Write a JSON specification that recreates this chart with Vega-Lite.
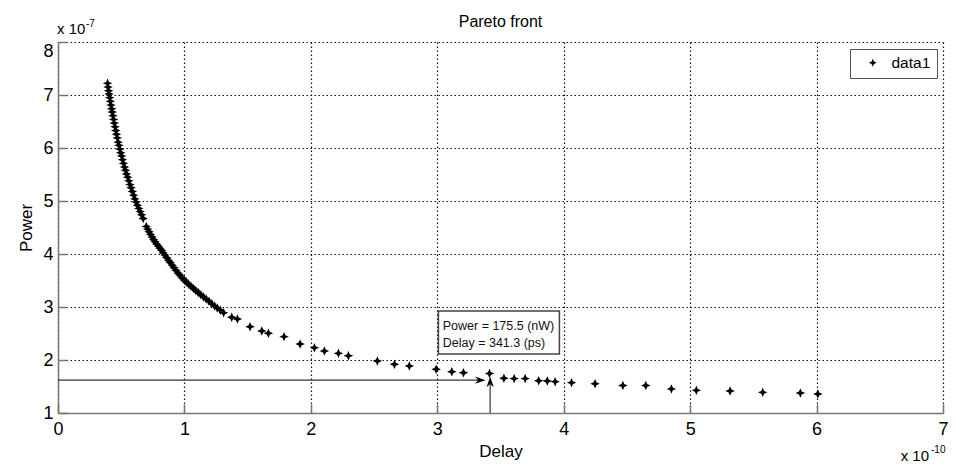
{
  "$schema": "https://vega.github.io/schema/vega-lite/v6.json",
  "width": 885,
  "height": 371,
  "autosize": {"type": "none"},
  "padding": {"left": 58, "top": 42, "right": 13, "bottom": 52},
  "background": "white",
  "title": {"text": "Pareto front", "fontSize": 16, "fontWeight": "normal", "font": "Liberation Sans", "offset": -11, "color": "black"},
  "config": {"view": {"stroke": null}, "font": "Liberation Sans"},
  "datasets": {
    "pts": [
      {"delay": 0.392, "power": 7.22, "series": "data1"},
      {"delay": 0.396, "power": 7.15, "series": "data1"},
      {"delay": 0.400, "power": 7.08, "series": "data1"},
      {"delay": 0.404, "power": 7.02, "series": "data1"},
      {"delay": 0.409, "power": 6.95, "series": "data1"},
      {"delay": 0.414, "power": 6.88, "series": "data1"},
      {"delay": 0.419, "power": 6.81, "series": "data1"},
      {"delay": 0.424, "power": 6.74, "series": "data1"},
      {"delay": 0.429, "power": 6.68, "series": "data1"},
      {"delay": 0.434, "power": 6.61, "series": "data1"},
      {"delay": 0.440, "power": 6.54, "series": "data1"},
      {"delay": 0.445, "power": 6.47, "series": "data1"},
      {"delay": 0.451, "power": 6.40, "series": "data1"},
      {"delay": 0.457, "power": 6.33, "series": "data1"},
      {"delay": 0.463, "power": 6.26, "series": "data1"},
      {"delay": 0.469, "power": 6.19, "series": "data1"},
      {"delay": 0.476, "power": 6.11, "series": "data1"},
      {"delay": 0.482, "power": 6.05, "series": "data1"},
      {"delay": 0.489, "power": 5.98, "series": "data1"},
      {"delay": 0.496, "power": 5.91, "series": "data1"},
      {"delay": 0.503, "power": 5.85, "series": "data1"},
      {"delay": 0.510, "power": 5.78, "series": "data1"},
      {"delay": 0.518, "power": 5.71, "series": "data1"},
      {"delay": 0.526, "power": 5.64, "series": "data1"},
      {"delay": 0.534, "power": 5.58, "series": "data1"},
      {"delay": 0.542, "power": 5.51, "series": "data1"},
      {"delay": 0.551, "power": 5.45, "series": "data1"},
      {"delay": 0.560, "power": 5.38, "series": "data1"},
      {"delay": 0.569, "power": 5.31, "series": "data1"},
      {"delay": 0.578, "power": 5.25, "series": "data1"},
      {"delay": 0.588, "power": 5.18, "series": "data1"},
      {"delay": 0.598, "power": 5.11, "series": "data1"},
      {"delay": 0.608, "power": 5.04, "series": "data1"},
      {"delay": 0.618, "power": 4.98, "series": "data1"},
      {"delay": 0.628, "power": 4.92, "series": "data1"},
      {"delay": 0.639, "power": 4.86, "series": "data1"},
      {"delay": 0.650, "power": 4.80, "series": "data1"},
      {"delay": 0.661, "power": 4.74, "series": "data1"},
      {"delay": 0.674, "power": 4.67, "series": "data1"},
      {"delay": 0.698, "power": 4.52, "series": "data1"},
      {"delay": 0.709, "power": 4.47, "series": "data1"},
      {"delay": 0.720, "power": 4.42, "series": "data1"},
      {"delay": 0.732, "power": 4.37, "series": "data1"},
      {"delay": 0.744, "power": 4.32, "series": "data1"},
      {"delay": 0.756, "power": 4.27, "series": "data1"},
      {"delay": 0.768, "power": 4.23, "series": "data1"},
      {"delay": 0.780, "power": 4.19, "series": "data1"},
      {"delay": 0.793, "power": 4.15, "series": "data1"},
      {"delay": 0.806, "power": 4.11, "series": "data1"},
      {"delay": 0.819, "power": 4.07, "series": "data1"},
      {"delay": 0.832, "power": 4.02, "series": "data1"},
      {"delay": 0.846, "power": 3.98, "series": "data1"},
      {"delay": 0.860, "power": 3.93, "series": "data1"},
      {"delay": 0.874, "power": 3.88, "series": "data1"},
      {"delay": 0.888, "power": 3.84, "series": "data1"},
      {"delay": 0.903, "power": 3.79, "series": "data1"},
      {"delay": 0.918, "power": 3.74, "series": "data1"},
      {"delay": 0.933, "power": 3.69, "series": "data1"},
      {"delay": 0.949, "power": 3.64, "series": "data1"},
      {"delay": 0.965, "power": 3.60, "series": "data1"},
      {"delay": 0.981, "power": 3.55, "series": "data1"},
      {"delay": 0.998, "power": 3.51, "series": "data1"},
      {"delay": 1.015, "power": 3.47, "series": "data1"},
      {"delay": 1.033, "power": 3.43, "series": "data1"},
      {"delay": 1.052, "power": 3.39, "series": "data1"},
      {"delay": 1.071, "power": 3.35, "series": "data1"},
      {"delay": 1.090, "power": 3.31, "series": "data1"},
      {"delay": 1.110, "power": 3.27, "series": "data1"},
      {"delay": 1.130, "power": 3.23, "series": "data1"},
      {"delay": 1.151, "power": 3.19, "series": "data1"},
      {"delay": 1.172, "power": 3.15, "series": "data1"},
      {"delay": 1.194, "power": 3.11, "series": "data1"},
      {"delay": 1.216, "power": 3.06, "series": "data1"},
      {"delay": 1.238, "power": 3.02, "series": "data1"},
      {"delay": 1.260, "power": 2.98, "series": "data1"},
      {"delay": 1.283, "power": 2.94, "series": "data1"},
      {"delay": 1.310, "power": 2.89, "series": "data1"},
      {"delay": 1.374, "power": 2.806, "series": "data1"},
      {"delay": 1.419, "power": 2.774, "series": "data1"},
      {"delay": 1.519, "power": 2.628, "series": "data1"},
      {"delay": 1.612, "power": 2.547, "series": "data1"},
      {"delay": 1.664, "power": 2.504, "series": "data1"},
      {"delay": 1.788, "power": 2.44, "series": "data1"},
      {"delay": 1.915, "power": 2.302, "series": "data1"},
      {"delay": 2.028, "power": 2.232, "series": "data1"},
      {"delay": 2.107, "power": 2.17, "series": "data1"},
      {"delay": 2.218, "power": 2.126, "series": "data1"},
      {"delay": 2.297, "power": 2.081, "series": "data1"},
      {"delay": 2.526, "power": 1.981, "series": "data1"},
      {"delay": 2.661, "power": 1.919, "series": "data1"},
      {"delay": 2.779, "power": 1.887, "series": "data1"},
      {"delay": 2.991, "power": 1.825, "series": "data1"},
      {"delay": 3.115, "power": 1.779, "series": "data1"},
      {"delay": 3.207, "power": 1.76, "series": "data1"},
      {"delay": 3.413, "power": 1.745, "series": "data1"},
      {"delay": 3.527, "power": 1.655, "series": "data1"},
      {"delay": 3.608, "power": 1.649, "series": "data1"},
      {"delay": 3.695, "power": 1.649, "series": "data1"},
      {"delay": 3.802, "power": 1.609, "series": "data1"},
      {"delay": 3.87, "power": 1.604, "series": "data1"},
      {"delay": 3.932, "power": 1.591, "series": "data1"},
      {"delay": 4.062, "power": 1.572, "series": "data1"},
      {"delay": 4.248, "power": 1.551, "series": "data1"},
      {"delay": 4.468, "power": 1.519, "series": "data1"},
      {"delay": 4.649, "power": 1.519, "series": "data1"},
      {"delay": 4.852, "power": 1.455, "series": "data1"},
      {"delay": 5.049, "power": 1.428, "series": "data1"},
      {"delay": 5.316, "power": 1.415, "series": "data1"},
      {"delay": 5.574, "power": 1.39, "series": "data1"},
      {"delay": 5.872, "power": 1.377, "series": "data1"},
      {"delay": 6.01, "power": 1.358, "series": "data1"}
    ],
    "arrows": [
      {"x1": 0, "x2": 3.36, "y1": 1.62, "y2": 1.62},
      {"x1": 3.418, "x2": 3.418, "y1": 1.0, "y2": 1.56}
    ],
    "heads": [
      {"x": 3.34, "y": 1.62, "dir": "right"},
      {"x": 3.418, "y": 1.585, "dir": "up"}
    ],
    "box": [{"x1": 3.009, "x2": 3.966, "y1": 2.113, "y2": 2.925}],
    "tip": [
      {"x": 3.043, "y": 2.64, "label": "Power = 175.5 (nW)"},
      {"x": 3.043, "y": 2.33, "label": "Delay = 341.3 (ps)"}
    ],
    "expy": [{"x": 0, "y": 8, "base": "x 10", "exp": "-7"}],
    "expx": [{"x": 7, "y": 1, "base": "x 10", "exp": "-10"}]
  },
  "layer": [
    {
      "data": {"name": "pts"},
      "mark": {"type": "point", "filled": true, "opacity": 1, "size": 90, "shape": "M0,-1L0.3,-0.3L1,0L0.3,0.3L0,1L-0.3,0.3L-1,0L-0.3,-0.3Z"},
      "encoding": {
        "x": {
          "field": "delay", "type": "quantitative",
          "scale": {"domain": [0, 7], "nice": false, "zero": false},
          "axis": {
            "title": "Delay", "values": [0, 1, 2, 3, 4, 5, 6, 7], "format": "d",
            "grid": true, "gridDash": [1.5, 2.5], "gridColor": "#111", "gridOpacity": 1, "gridWidth": 1.2,
            "domainColor": "#777", "domainWidth": 1.5, "tickColor": "#777", "tickWidth": 1.5, "tickSize": -9,
            "labelPadding": 16, "labelFontSize": 18, "labelColor": "black", "labelFont": "Liberation Sans", "labelFlush": false,
            "titleFontSize": 17, "titleFontWeight": "normal", "titleColor": "black", "titleFont": "Liberation Sans", "titlePadding": 5
          }
        },
        "y": {
          "field": "power", "type": "quantitative",
          "scale": {"domain": [1, 8], "nice": false, "zero": false},
          "axis": {
            "title": "Power", "values": [1, 2, 3, 4, 5, 6, 7, 8], "format": "d",
            "grid": true, "gridDash": [1.5, 2.5], "gridColor": "#111", "gridOpacity": 1, "gridWidth": 1.2,
            "domainColor": "#777", "domainWidth": 1.5, "tickColor": "#777", "tickWidth": 1.5, "tickSize": -9,
            "labelPadding": 14, "labelFontSize": 18, "labelColor": "black", "labelFont": "Liberation Sans", "labelFlush": false,
            "labelBaseline": {"condition": {"test": "datum.value == 8", "value": "top"}, "value": "middle"},
            "titleFontSize": 17, "titleFontWeight": "normal", "titleColor": "black", "titleFont": "Liberation Sans", "titlePadding": 7
          }
        },
        "color": {
          "field": "series", "type": "nominal",
          "scale": {"range": ["black"]},
          "legend": {
            "title": null, "orient": "none", "legendX": 792, "legendY": 7,
            "fillColor": "white", "strokeColor": "#555", "padding": 6, "cornerRadius": 0,
            "symbolOffset": 9, "labelOffset": 11, "labelFontSize": 15.5, "labelFont": "Liberation Sans", "labelColor": "black",
            "symbolType": "M0,-1L0.3,-0.3L1,0L0.3,0.3L0,1L-0.3,0.3L-1,0L-0.3,-0.3Z",
            "symbolSize": 64, "symbolFillColor": "black", "symbolStrokeWidth": 0
          }
        }
      }
    },
    {
      "data": {"name": "arrows"},
      "mark": {"type": "rule", "color": "#333", "strokeWidth": 1.2},
      "encoding": {
        "x": {"field": "x1", "type": "quantitative"},
        "x2": {"field": "x2"},
        "y": {"field": "y1", "type": "quantitative"},
        "y2": {"field": "y2"}
      }
    },
    {
      "data": {"name": "heads"},
      "mark": {"type": "point", "filled": true, "opacity": 1, "size": 110, "color": "black"},
      "encoding": {
        "x": {"field": "x", "type": "quantitative"},
        "y": {"field": "y", "type": "quantitative"},
        "shape": {"field": "dir", "type": "nominal", "scale": {"domain": ["right", "up"], "range": ["M1,0L-1,-0.7L-0.4,0L-1,0.7Z", "M0,-1L0.7,1L0,0.4L-0.7,1Z"]}, "legend": null}
      }
    },
    {
      "data": {"name": "box"},
      "mark": {"type": "rect", "fill": "white", "stroke": "#444", "strokeWidth": 1.5},
      "encoding": {
        "x": {"field": "x1", "type": "quantitative"},
        "x2": {"field": "x2"},
        "y": {"field": "y1", "type": "quantitative"},
        "y2": {"field": "y2"}
      }
    },
    {
      "data": {"name": "tip"},
      "mark": {"type": "text", "align": "left", "baseline": "middle", "fontSize": 12.5, "font": "Liberation Sans", "color": "#111"},
      "encoding": {
        "x": {"field": "x", "type": "quantitative"},
        "y": {"field": "y", "type": "quantitative"},
        "text": {"field": "label"}
      }
    },
    {
      "data": {"name": "expy"},
      "mark": {"type": "text", "align": "left", "baseline": "alphabetic", "fontSize": 15, "font": "Liberation Sans", "color": "black", "dx": -1, "dy": -8},
      "encoding": {
        "x": {"field": "x", "type": "quantitative"},
        "y": {"field": "y", "type": "quantitative"},
        "text": {"field": "base"}
      }
    },
    {
      "data": {"name": "expy"},
      "mark": {"type": "text", "align": "left", "baseline": "alphabetic", "fontSize": 10, "font": "Liberation Sans", "color": "black", "dx": 28, "dy": -15},
      "encoding": {
        "x": {"field": "x", "type": "quantitative"},
        "y": {"field": "y", "type": "quantitative"},
        "text": {"field": "exp"}
      }
    },
    {
      "data": {"name": "expx"},
      "mark": {"type": "text", "align": "right", "baseline": "alphabetic", "fontSize": 15, "font": "Liberation Sans", "color": "black", "dx": -14, "dy": 48},
      "encoding": {
        "x": {"field": "x", "type": "quantitative"},
        "y": {"field": "y", "type": "quantitative"},
        "text": {"field": "base"}
      }
    },
    {
      "data": {"name": "expx"},
      "mark": {"type": "text", "align": "left", "baseline": "alphabetic", "fontSize": 10, "font": "Liberation Sans", "color": "black", "dx": -12, "dy": 40},
      "encoding": {
        "x": {"field": "x", "type": "quantitative"},
        "y": {"field": "y", "type": "quantitative"},
        "text": {"field": "exp"}
      }
    }
  ]
}
